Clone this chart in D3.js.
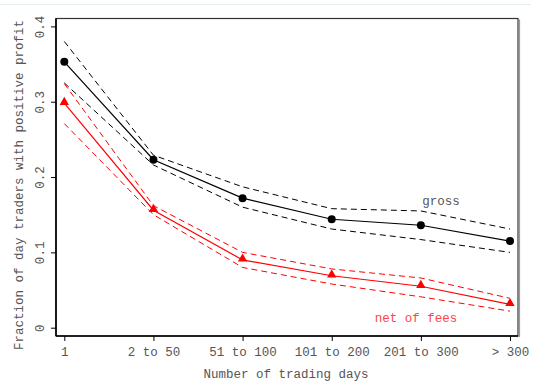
<!DOCTYPE html>
<head>
    <meta charset="utf-8">
    <script src="https://d3js.org/d3.v7.min.js"></script>
</head>
<body style="margin:0;background:#fff">
<svg class="chart" width="560" height="389"></svg>
<script>

var categories = ["1", "2 to 50", "51 to 100", "101 to 200", "201 to 300", "> 300"];
var grossMid   = [0.353, 0.223, 0.172, 0.144, 0.136, 0.115];
var grossHigh  = [0.380, 0.229, 0.187, 0.158, 0.155, 0.131];
var grossLow   = [0.325, 0.216, 0.160, 0.131, 0.117, 0.100];
var netMid     = [0.298, 0.156, 0.090, 0.069, 0.055, 0.031];
var netHigh    = [0.324, 0.162, 0.100, 0.078, 0.066, 0.039];
var netLow     = [0.271, 0.150, 0.080, 0.058, 0.041, 0.022];
var yTicks     = [0, 0.1, 0.2, 0.3, 0.4];

var box = {left: 56, top: 18.5, right: 518, bottom: 336};
var font = "'Liberation Mono', 'DejaVu Sans Mono', monospace";

var x = d3.scalePoint().domain(categories).range([64.3, 510]);
var y = d3.scaleLinear().domain([0, 0.4]).range([327.7, 26.4]);

var chart = d3.select(".chart");

// faint line at very top
chart.append("line")
    .attr("x1", 0).attr("x2", 531).attr("y1", 4.5).attr("y2", 4.5)
    .attr("stroke", "#e6eef0").attr("stroke-width", 1);

// plot frame
chart.append("rect")
    .attr("x", box.left).attr("y", box.top)
    .attr("width", box.right - box.left).attr("height", box.bottom - box.top)
    .attr("fill", "#fff").attr("stroke", "#333").attr("stroke-width", 1.2);
chart.append("line")
    .attr("x1", box.right + 1.5).attr("x2", box.right + 1.5)
    .attr("y1", box.top + 1).attr("y2", box.bottom + 1)
    .attr("stroke", "#999").attr("stroke-width", 1.2);
chart.append("line")
    .attr("x1", box.left).attr("x2", box.left).attr("y1", box.top).attr("y2", box.bottom)
    .attr("stroke", "#000").attr("stroke-width", 1.6);
chart.append("line")
    .attr("x1", box.left).attr("x2", box.right).attr("y1", box.bottom).attr("y2", box.bottom)
    .attr("stroke", "#000").attr("stroke-width", 1.6);

// axes
var xAxis = d3.axisBottom(x).tickSize(5).tickPadding(6);
var gx = chart.append("g").attr("transform", "translate(0," + box.bottom + ")").call(xAxis);
gx.select(".domain").remove();
gx.selectAll("line").attr("stroke", "#000");
gx.selectAll("text")
    .style("font-family", font).style("font-size", "12.5px").attr("fill", "#555");

var yAxis = d3.axisLeft(y).tickValues(yTicks).tickSize(5).tickFormat(function(d) { return d === 0 ? "0" : d3.format(".1f")(d); });
var gy = chart.append("g").attr("transform", "translate(" + box.left + ",0)").call(yAxis);
gy.select(".domain").remove();
gy.selectAll("line").attr("stroke", "#000");
gy.selectAll("text")
    .style("font-family", font).style("font-size", "12.5px").attr("fill", "#555")
    .attr("x", 0).attr("dy", 0)
    .attr("text-anchor", "middle")
    .attr("transform", "translate(-12,0) rotate(-90)");

// axis titles
chart.append("text")
    .attr("x", 286).attr("y", 378)
    .attr("text-anchor", "middle")
    .style("font-family", font).style("font-size", "12.5px").attr("fill", "#555")
    .text("Number of trading days");
chart.append("text")
    .attr("transform", "translate(23,185) rotate(-90)")
    .attr("text-anchor", "middle")
    .style("font-family", font).style("font-size", "12.5px").attr("fill", "#555")
    .text("Fraction of day traders with positive profit");

var line = d3.line()
    .x(function(d, i) { return x(categories[i]); })
    .y(function(d) { return y(d); });

function series(vals, color, dashed) {
    chart.append("path")
        .datum(vals)
        .attr("d", line)
        .attr("fill", "none")
        .attr("stroke", color)
        .attr("stroke-width", dashed ? 1 : 1.2)
        .attr("stroke-dasharray", dashed ? "6,4" : null);
}

series(grossHigh, "#000", true);
series(grossLow, "#000", true);
series(grossMid, "#000", false);
series(netHigh, "#ff0000", true);
series(netLow, "#ff0000", true);
series(netMid, "#ff0000", false);

chart.selectAll("circle.gross")
    .data(grossMid).enter()
    .append("circle")
    .attr("class", "gross")
    .attr("cx", function(d, i) { return x(categories[i]); })
    .attr("cy", function(d) { return y(d); })
    .attr("r", 4)
    .attr("fill", "#000");

var tri = d3.symbol().type(d3.symbolTriangle).size(38);
chart.selectAll("path.net")
    .data(netMid).enter()
    .append("path")
    .attr("class", "net")
    .attr("d", tri)
    .attr("transform", function(d, i) { return "translate(" + x(categories[i]) + "," + (y(d) - 1) + ")"; })
    .attr("fill", "#ff0000");

// labels
chart.append("text")
    .attr("x", 441).attr("y", 205)
    .attr("text-anchor", "middle")
    .style("font-family", font).style("font-size", "12.5px").attr("fill", "#555")
    .text("gross");
chart.append("text")
    .attr("x", 416).attr("y", 322)
    .attr("text-anchor", "middle")
    .style("font-family", font).style("font-size", "12.5px").attr("fill", "#ff4444")
    .text("net of fees");

</script>
</body>
